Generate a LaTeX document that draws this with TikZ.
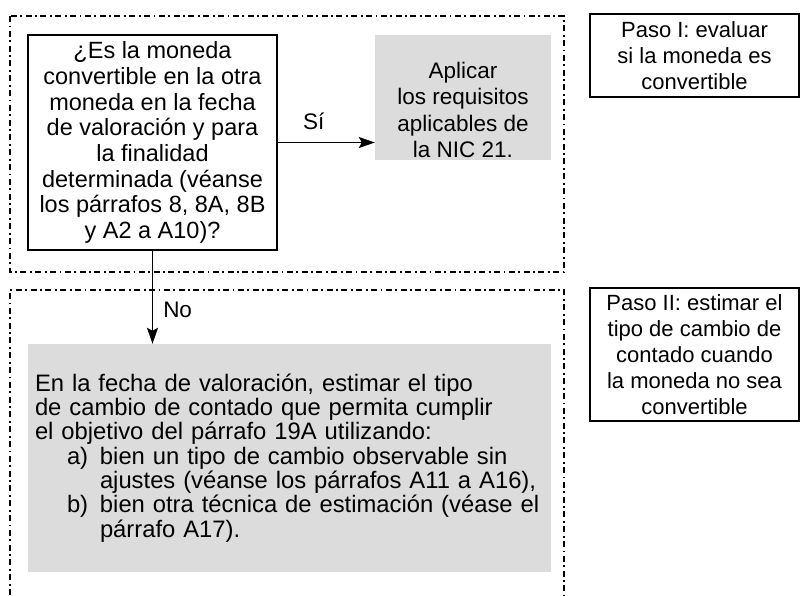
\documentclass[tikz,border=0pt]{standalone}
\usepackage{fontspec}
\setmainfont{Liberation Sans}
\usetikzlibrary{arrows.meta}
\definecolor{boxgray}{HTML}{DCDCDC}
\begin{document}
\begin{tikzpicture}[x=1pt,y=-1pt,
  every node/.style={font=\fontsize{22.5}{25}\selectfont, inner sep=0pt},
  frame/.style={line width=1.6pt, dash pattern=on 6pt off 3.5pt on 1.8pt off 3.5pt},
  qbox/.style={draw, line width=1.8pt, align=center, font=\fontsize{23.5}{25.7}\selectfont},
  graybox/.style={fill=boxgray},
  stepnote/.style={draw, line width=1.5pt, align=center, font=\fontsize{22}{26}\selectfont},
  arr/.style={line width=1.5pt, -{Stealth[length=16pt,width=11pt,inset=3pt]}},
]
\useasboundingbox (0,0) rectangle (801,595);
\draw[frame] (10,16) rectangle (564,272);
\draw[frame] (10,595) -- (10,290) -- (564,290) -- (564,595);

\node[qbox, minimum width=249pt, minimum height=215pt] (q) at (152.5,142.5)
 {¿Es la moneda\\convertible en la otra\\moneda en la fecha\\de valoración y para\\la finalidad\\determinada (véanse\\los párrafos 8, 8A, 8B\\y A2 a A10)?};

\node[graybox, minimum width=176pt, minimum height=125pt] (apl) at (463,97.5) {};
\node[align=center, anchor=south, font=\fontsize{22.5}{26.5}\selectfont] (aplt) at ([yshift=2pt]apl.south)
 {Aplicar\\los requisitos\\aplicables de\\la NIC 21.};

\node[stepnote, minimum width=209pt, minimum height=83pt] (p1) at (694.5,55.5)
 {Paso I: evaluar\\si la moneda es\\convertible};
\node[stepnote, minimum width=209pt, minimum height=133pt] (p2) at (694.5,354.5)
 {Paso II: estimar el\\tipo de cambio de\\contado cuando\\la moneda no sea\\convertible};

\node[graybox, minimum height=228pt, text width=509pt, inner xsep=7pt, align=left, font=\fontsize{23.8}{24.3}\selectfont] (big) at (289.5,458)
 {En la fecha de valoración, estimar el tipo\\
  de cambio de contado que permita cumplir\\
  el objetivo del párrafo 19A utilizando:\\
  \hspace*{32pt}\makebox[33pt][l]{a)}bien un tipo de cambio observable sin\\
  \hspace*{65pt}ajustes (véanse los párrafos A11 a A16),\\
  \hspace*{32pt}\makebox[33pt][l]{b)}bien otra técnica de estimación (véase el\\
  \hspace*{65pt}párrafo A17).};

\draw[arr] (q.east) -- (q.east -| apl.west) node[pos=0.37, yshift=21pt] (si) {Sí};
\draw[arr] (q.south) -- (q.south |- big.north) node[pos=0.64, anchor=west, xshift=10pt] (no) {No};
\end{tikzpicture}
\end{document}
